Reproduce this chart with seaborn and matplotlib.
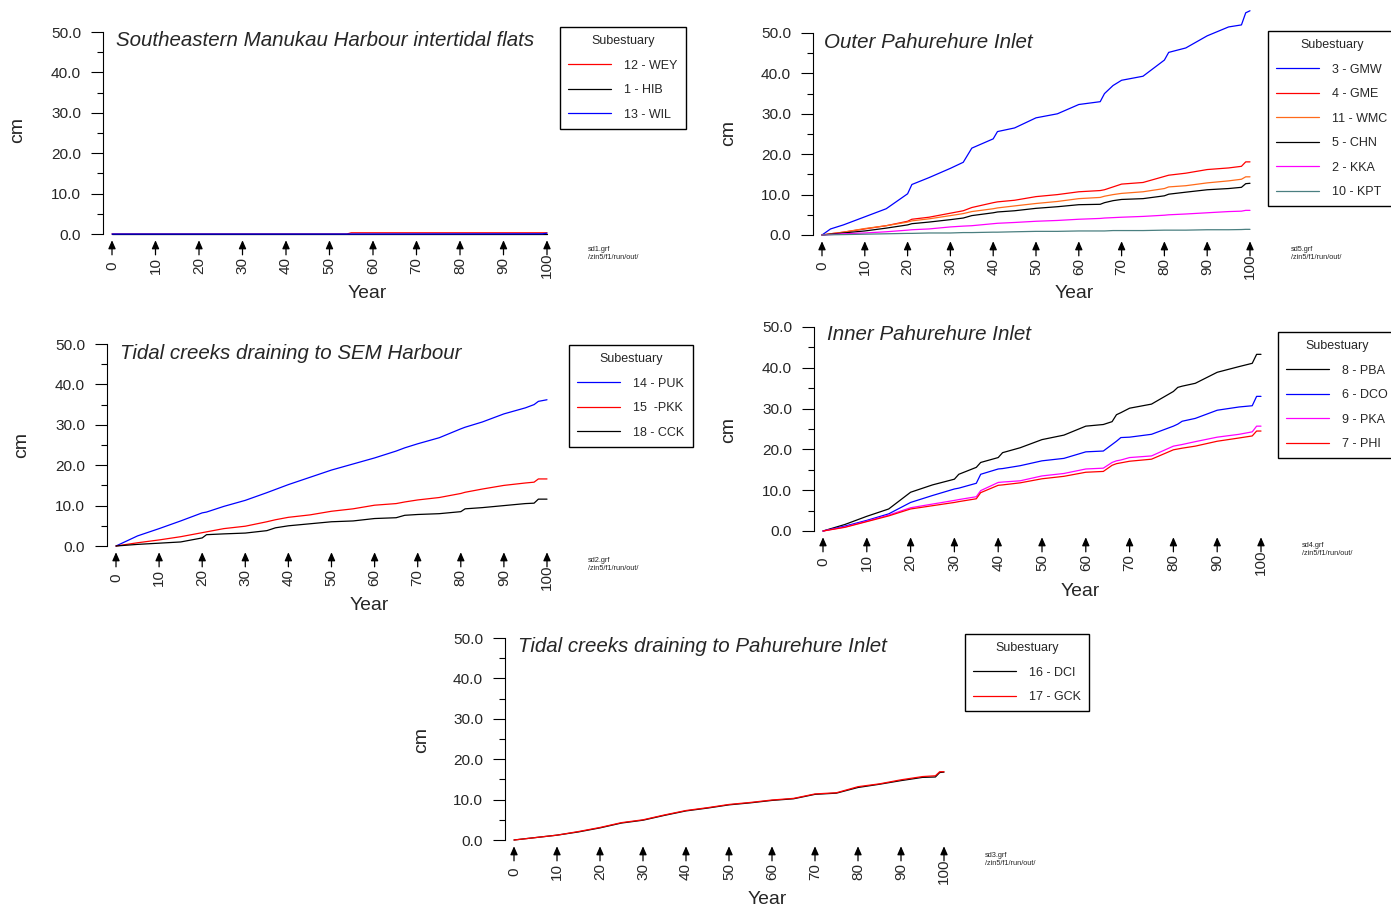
import matplotlib
matplotlib.use('Agg')
import matplotlib.pyplot as plt
from matplotlib import font_manager
from matplotlib.ticker import MultipleLocator, FormatStrFormatter
import seaborn as sns

sns.set_style('ticks')
plt.rcParams['font.family'] = ['Liberation Sans', 'DejaVu Sans']


def has_font(name):
    try:
        font_manager.findfont(font_manager.FontProperties(family=name), fallback_to_default=False)
        return True
    except ValueError:
        return False


NARROW_OK = has_font('Liberation Sans Narrow')
NARROW = ['Liberation Sans Narrow', 'Liberation Sans'] if NARROW_OK else ['Liberation Sans']
K = 1.0 if NARROW_OK else 0.82

# ---- data ----
# Southeastern Manukau Harbour intertidal flats
p1_years = [0, 54, 55, 99, 100]
p1_wey = [0, 0, 0.3, 0.3, 0.3]
p1_hib = [0, 0, 0, 0, 0]
p1_wil = [0, 0, 0, 0.05, 0.2]

# Outer Pahurehure Inlet
p2_years = [0, 2, 5, 10, 15, 20, 21, 25, 30, 33, 35, 40, 41, 45, 50, 55, 60, 65, 66, 68,
            70, 75, 80, 81, 85, 90, 95, 98, 99, 100]
p2_gmw = [0, 1.5, 2.5, 4.5, 6.5, 10.2, 12.5, 14.2, 16.5, 18.0, 21.5, 23.8, 25.6, 26.5, 29.0,
          30.0, 32.3, 33.0, 35.0, 37.0, 38.3, 39.3, 43.3, 45.2, 46.3, 49.3, 51.5, 52.0, 55.0, 55.5]
p2_gme = [0, 0.3, 0.7, 1.5, 2.3, 3.4, 3.9, 4.4, 5.4, 6.0, 6.8, 8.0, 8.2, 8.6, 9.5, 10.0, 10.7,
          11.0, 11.2, 11.9, 12.6, 13.0, 14.5, 14.8, 15.3, 16.2, 16.6, 17.0, 18.1, 18.1]
p2_wmc = [0, 0.3, 0.7, 1.6, 2.3, 3.2, 3.5, 4.0, 4.8, 5.3, 5.8, 6.5, 6.7, 7.2, 7.8, 8.3, 9.0,
          9.3, 9.6, 10.0, 10.3, 10.7, 11.5, 11.9, 12.2, 12.9, 13.4, 13.8, 14.4, 14.4]
p2_chn = [0, 0.2, 0.5, 1.0, 1.7, 2.5, 2.8, 3.2, 3.8, 4.2, 4.8, 5.5, 5.7, 6.0, 6.6, 7.0, 7.5,
          7.6, 8.0, 8.5, 8.8, 9.0, 9.7, 10.1, 10.6, 11.2, 11.5, 11.8, 12.7, 12.8]
p2_kka = [0, 0.1, 0.3, 0.5, 0.8, 1.2, 1.3, 1.5, 2.0, 2.2, 2.3, 2.8, 2.9, 3.1, 3.4, 3.6, 3.9,
          4.1, 4.2, 4.3, 4.4, 4.6, 4.9, 5.0, 5.2, 5.5, 5.8, 5.9, 6.1, 6.1]
p2_kpt = [0, 0.05, 0.1, 0.2, 0.3, 0.4, 0.4, 0.5, 0.5, 0.6, 0.6, 0.7, 0.7, 0.8, 0.9, 0.9, 1.0,
          1.0, 1.0, 1.1, 1.1, 1.1, 1.2, 1.2, 1.2, 1.3, 1.3, 1.35, 1.4, 1.4]

# Tidal creeks draining to SEM Harbour
p3_years = [0, 5, 10, 15, 20, 21, 25, 30, 35, 37, 40, 45, 50, 55, 60, 65, 67, 70, 75, 80, 81,
            85, 90, 95, 97, 98, 100]
p3_puk = [0, 2.5, 4.3, 6.2, 8.2, 8.4, 9.8, 11.3, 13.2, 14.0, 15.2, 17.0, 18.8, 20.3, 21.8, 23.5,
          24.3, 25.3, 26.8, 29.0, 29.4, 30.7, 32.7, 34.2, 35.0, 35.8, 36.2]
p3_pkk = [0, 0.8, 1.5, 2.3, 3.3, 3.5, 4.3, 4.9, 6.0, 6.5, 7.1, 7.7, 8.6, 9.2, 10.1, 10.5, 10.9,
          11.4, 12.0, 13.0, 13.3, 14.1, 15.0, 15.6, 15.8, 16.6, 16.6]
p3_cck = [0, 0.4, 0.7, 1.0, 2.0, 2.8, 3.0, 3.2, 3.8, 4.5, 5.0, 5.5, 6.0, 6.2, 6.8, 7.0, 7.6, 7.8,
          8.0, 8.5, 9.2, 9.5, 10.0, 10.5, 10.6, 11.6, 11.6]

# Inner Pahurehure Inlet
p4_years = [0, 5, 10, 15, 20, 25, 30, 31, 35, 36, 40, 41, 45, 50, 55, 60, 64, 66, 67, 68, 70,
            75, 80, 81, 82, 85, 90, 95, 98, 99, 100]
p4_pba = [0, 1.6, 3.6, 5.4, 9.5, 11.3, 12.7, 13.9, 15.6, 16.8, 18.0, 19.2, 20.4, 22.4, 23.5,
          25.7, 26.1, 26.8, 28.5, 29.0, 30.1, 31.1, 34.2, 35.2, 35.5, 36.2, 38.9, 40.3, 41.1,
          43.3, 43.3]
p4_dco = [0, 1.2, 2.6, 4.2, 7.0, 8.7, 10.3, 10.5, 11.7, 13.9, 15.2, 15.3, 16.0, 17.2, 17.8,
          19.4, 19.6, 21.2, 22.0, 22.9, 23.0, 23.7, 25.7, 26.2, 26.9, 27.6, 29.6, 30.4, 30.7,
          33.0, 33.0]
p4_pka = [0, 1.0, 2.4, 3.9, 5.7, 6.6, 7.5, 7.7, 8.4, 9.9, 11.9, 12.0, 12.3, 13.5, 14.1, 15.2,
          15.4, 16.8, 17.2, 17.4, 18.0, 18.4, 20.8, 21.0, 21.2, 21.9, 23.0, 23.7, 24.3, 25.7, 25.7]
p4_phi = [0, 0.9, 2.3, 3.7, 5.4, 6.2, 7.0, 7.2, 7.9, 9.4, 11.2, 11.3, 11.8, 12.8, 13.4, 14.4,
          14.6, 16.1, 16.5, 16.7, 17.1, 17.6, 19.9, 20.1, 20.3, 20.8, 22.0, 22.8, 23.3, 24.5, 24.5]

# Tidal creeks draining to Pahurehure Inlet
p5_years = [0, 5, 10, 15, 20, 25, 30, 35, 40, 45, 50, 55, 60, 65, 70, 75, 80, 85, 90, 95, 98,
            99, 100]
p5_dci = [0, 0.6, 1.2, 2.0, 3.0, 4.2, 4.9, 6.1, 7.2, 7.9, 8.7, 9.2, 9.8, 10.2, 11.3, 11.6, 13.0,
          13.8, 14.7, 15.5, 15.6, 16.7, 16.8]
p5_gck = [0, 0.6, 1.2, 2.1, 3.1, 4.3, 5.0, 6.2, 7.3, 8.0, 8.8, 9.3, 9.9, 10.3, 11.4, 11.7, 13.2,
          13.9, 14.9, 15.7, 15.9, 16.9, 16.9]

year_ticks = list(range(0, 101, 10))

W, H = 1391, 909
fig = plt.figure(figsize=(W / 100, H / 100), dpi=100)


def px_axes(x0, x100, ytop, ybot):
    ppu = (x100 - x0) / 100.0
    left = x0 - 2 * ppu
    width = 103 * ppu
    return fig.add_axes([left / W, 1 - ybot / H, width / W, (ybot - ytop) / H])


def panel(ax, years, series, title, tpos, legpos, ypos, cmpos, grf, grfpos):
    for lab, vals, col in series:
        sns.lineplot(x=years, y=vals, color=col, lw=0.9, label=lab, ax=ax)
    for ln in ax.lines:
        ln.set_clip_on(False)
    ax.set_xlim(-2, 101)
    ax.set_ylim(0, 50)
    ax.set_yticks(range(0, 51, 10))
    ax.yaxis.set_minor_locator(MultipleLocator(5))
    ax.yaxis.set_major_formatter(FormatStrFormatter('%.1f'))
    ax.set_xticks(year_ticks)
    ax.set_xticklabels([str(t) for t in year_ticks], rotation=90, va='center',
                       fontsize=11)
    ax.tick_params(axis='x', length=0, pad=22.5)
    ax.tick_params(axis='y', which='major', length=9, width=0.8, pad=7, color='black')
    ax.tick_params(axis='y', which='minor', length=4.5, width=0.8, color='black')
    for lab in ax.get_yticklabels():
        lab.set_family(NARROW)
        lab.set_fontsize(13.5 * K)
    sns.despine(ax=ax, bottom=True)
    ax.spines['left'].set_linewidth(0.8)
    ax.spines['left'].set_color('black')
    ax.set_xlabel('')
    ax.set_ylabel('')
    # upward arrows standing in for the x ticks
    for t in year_ticks:
        ax.annotate('', xy=(t, 0), xycoords=ax.get_xaxis_transform(),
                    xytext=(0, -15), textcoords='offset points', annotation_clip=False,
                    arrowprops=dict(arrowstyle='-|>,head_length=0.5,head_width=0.22',
                                    mutation_scale=10, lw=0.9, color='black',
                                    shrinkA=0, shrinkB=4.5))
    fig.text(tpos[0] / W, 1 - tpos[1] / H, title, ha='left', va='center',
             style='italic', family=NARROW, fontsize=18 * K)
    fig.text(ypos[0] / W, 1 - (ypos[1] + 2) / H, 'Year', ha='center', va='center',
             family=NARROW, fontsize=17 * K)
    fig.text(cmpos[0] / W, 1 - cmpos[1] / H, 'cm', ha='center', va='center',
             rotation=90, fontsize=14)
    fig.text(grfpos[0] / W, 1 - (grfpos[1] + 4) / H, grf + '\n/zin5/f1/run/out/', ha='left',
             va='top', family=NARROW, fontsize=6.5 * K, linespacing=1.15)
    leg = ax.legend(title='Subestuary', loc='upper left',
                    bbox_to_anchor=(legpos[0] / W, 1 - legpos[1] / H),
                    bbox_transform=fig.transFigure, borderaxespad=0,
                    fontsize=9, title_fontsize=9, frameon=True, fancybox=False,
                    handlelength=3.4, handletextpad=1.1, labelspacing=1.0,
                    borderpad=0.65)
    leg.get_frame().set_edgecolor('black')
    leg.get_frame().set_linewidth(1.0)
    leg.get_frame().set_alpha(1)


ax1 = px_axes(112, 547, 32, 234)
panel(ax1, p1_years,
      [('12 - WEY', p1_wey, '#ff0000'), ('1 - HIB', p1_hib, 'black'), ('13 - WIL', p1_wil, '#0000ff')],
      'Southeastern Manukau Harbour intertidal flats', (116, 40), (560, 27), (367, 292),
      (18, 130), 'sd1.grf', (588, 242))

ax2 = px_axes(822, 1250, 33, 235)
panel(ax2, p2_years,
      [('3 - GMW', p2_gmw, '#0000ff'), ('4 - GME', p2_gme, '#ff0000'),
       ('11 - WMC', p2_wmc, '#ff6a1a'), ('5 - CHN', p2_chn, 'black'),
       ('2 - KKA', p2_kka, '#ff00ff'), ('10 - KPT', p2_kpt, '#4a7f80')],
      'Outer Pahurehure Inlet', (824, 42), (1268, 31), (1074, 292), (729, 133),
      'sd5.grf', (1291, 242))

ax3 = px_axes(116, 547, 344, 546)
panel(ax3, p3_years,
      [('14 - PUK', p3_puk, '#0000ff'), ('15  -PKK', p3_pkk, '#ff0000'),
       ('18 - CCK', p3_cck, 'black')],
      'Tidal creeks draining to SEM Harbour', (120, 353), (569, 345), (369, 603), (22, 445),
      'sd2.grf', (588, 553))

ax4 = px_axes(823, 1261, 327, 531)
panel(ax4, p4_years,
      [('8 - PBA', p4_pba, 'black'), ('6 - DCO', p4_dco, '#0000ff'),
       ('9 - PKA', p4_pka, '#ff00ff'), ('7 - PHI', p4_phi, '#ff0000')],
      'Inner Pahurehure Inlet', (827, 334), (1278, 332), (1080, 589), (729, 430),
      'sd4.grf', (1302, 538))

ax5 = px_axes(514, 944, 638, 840)
panel(ax5, p5_years,
      [('16 - DCI', p5_dci, 'black'), ('17 - GCK', p5_gck, '#ff0000')],
      'Tidal creeks draining to Pahurehure Inlet', (518, 647), (965, 634), (767, 898),
      (422, 740), 'sd3.grf', (985, 848))

fig.savefig('out.png', dpi=100)
